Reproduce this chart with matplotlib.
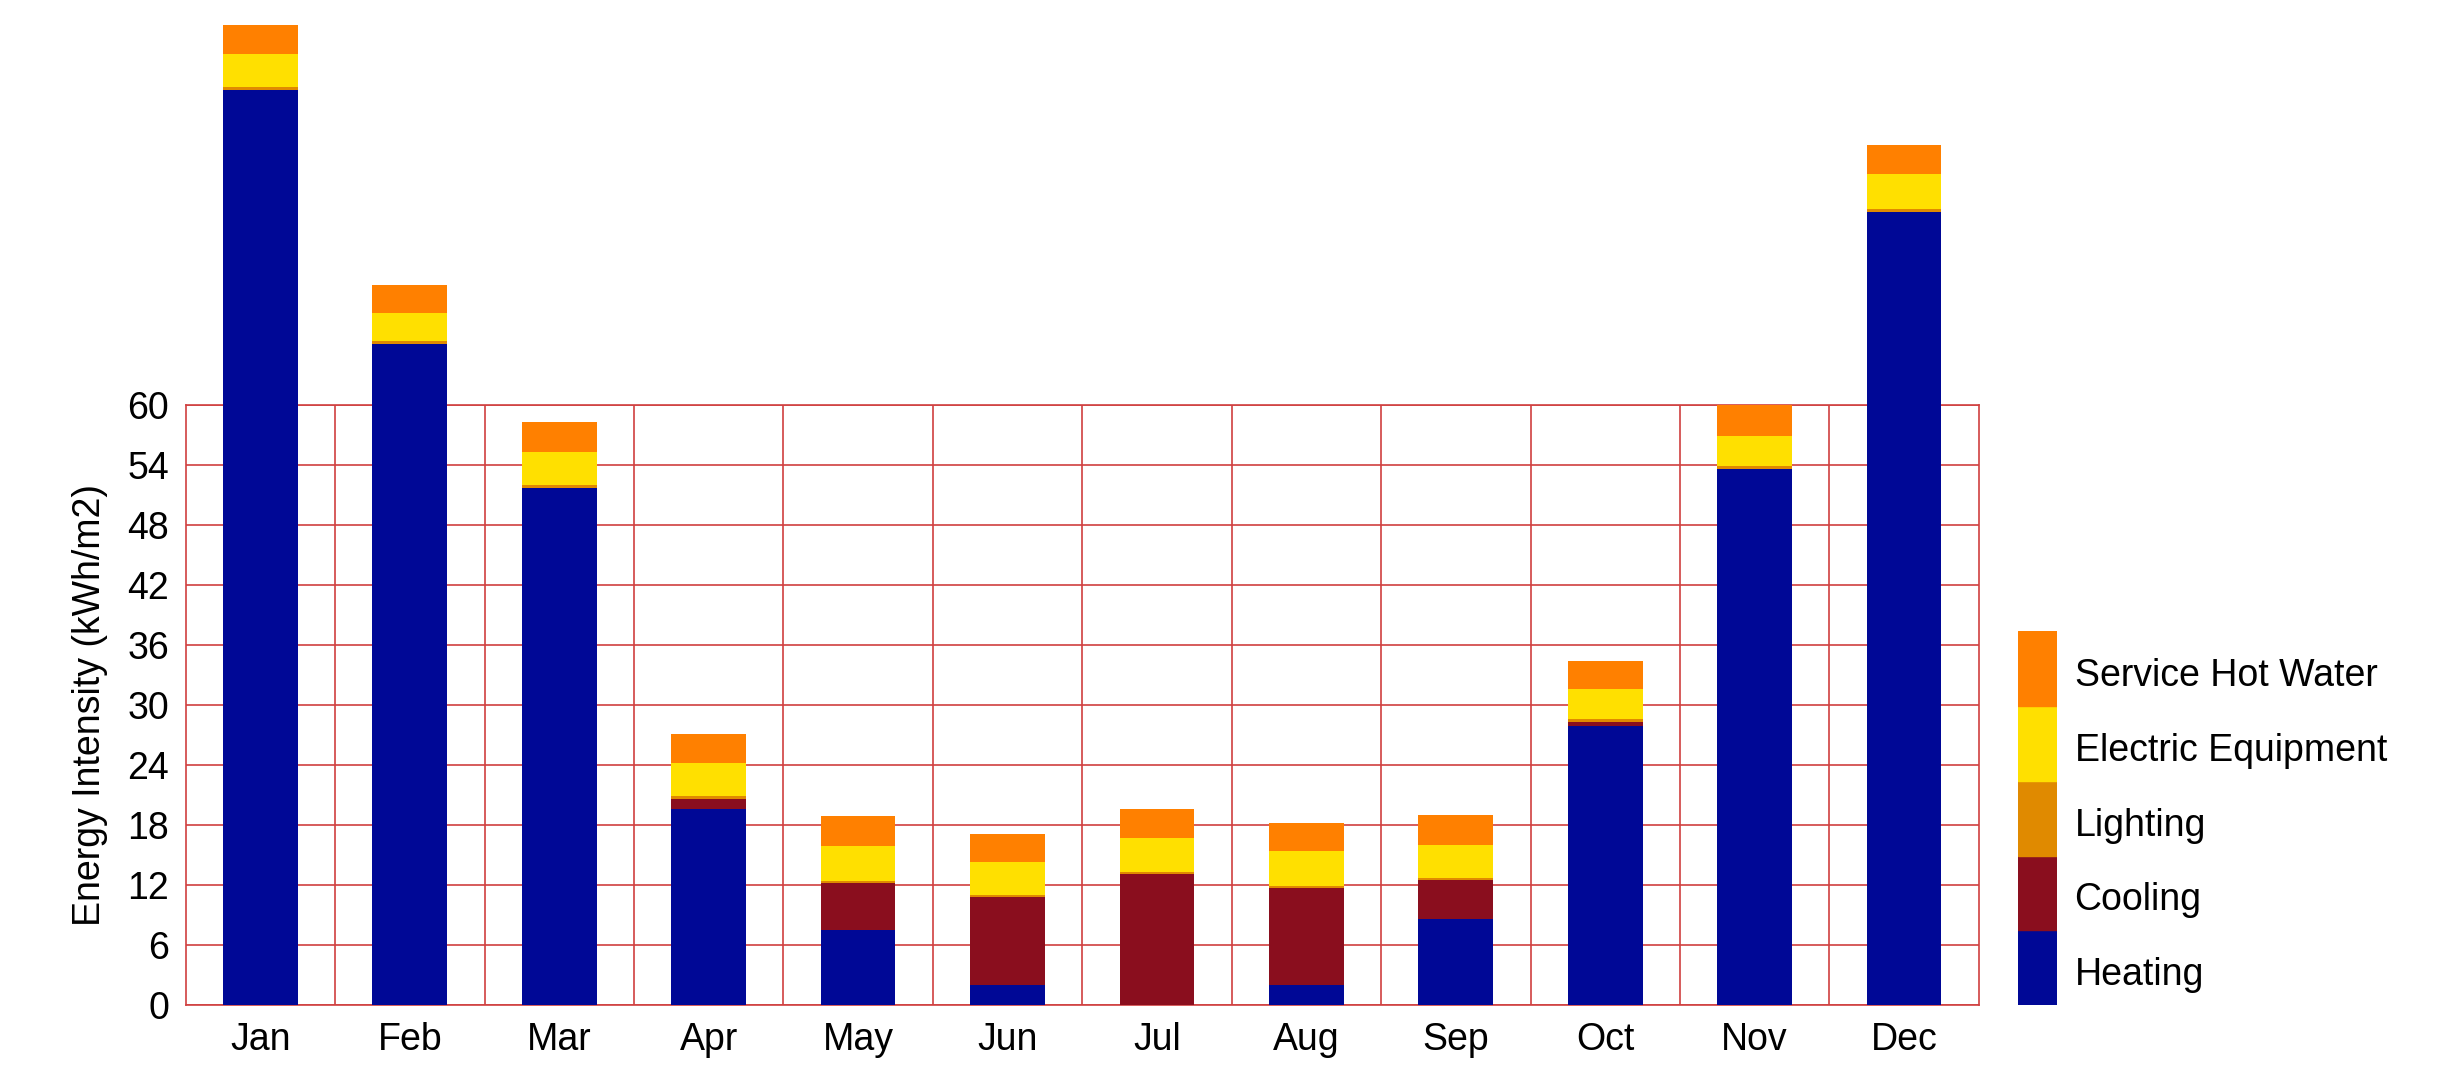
import numpy as np
import matplotlib
matplotlib.use("Agg")
import matplotlib.pyplot as plt
from matplotlib.patches import Rectangle

plt.rcParams["font.family"] = ["Liberation Sans", "DejaVu Sans"]

months = ["Jan", "Feb", "Mar", "Apr", "May", "Jun", "Jul", "Aug", "Sep", "Oct", "Nov", "Dec"]
heating = [91.5, 66.1, 51.7, 19.6, 7.5, 2.0, 0.0, 2.0, 8.6, 27.9, 53.6, 79.3]
cooling = [0.0, 0.0, 0.0, 1.0, 4.7, 8.8, 13.1, 9.7, 3.9, 0.4, 0.0, 0.0]
lighting = [0.3, 0.3, 0.3, 0.3, 0.2, 0.2, 0.2, 0.2, 0.2, 0.3, 0.3, 0.3]
electric = [3.3, 2.8, 3.3, 3.3, 3.5, 3.3, 3.4, 3.5, 3.3, 3.0, 3.0, 3.5]
hot_water = [2.9, 2.8, 3.0, 2.9, 3.0, 2.8, 2.9, 2.8, 3.0, 2.8, 3.1, 2.9]

series = [("Heating", heating, "#000896"), ("Cooling", cooling, "#8a0e1e"),
          ("Lighting", lighting, "#e08a00"), ("Electric Equipment", electric, "#ffe000"),
          ("Service Hot Water", hot_water, "#ff8000")]

fig = plt.figure(figsize=(24.43, 10.83), dpi=100)
ax = fig.add_axes([0.076, 0.072, 0.734, 0.554])
x = np.arange(len(months))
bottom = np.zeros(len(months))
for name, vals, col in series:
    ax.bar(x, vals, 0.5, bottom=bottom, color=col, clip_on=False, zorder=3)
    bottom += np.array(vals)

ax.set_xlim(-0.5, len(months) - 0.5)
ax.set_ylim(0, 60)
ax.set_yticks(range(0, 61, 6))
ax.set_xticks(x)
ax.set_xticklabels(months)
ax.tick_params(length=0, labelsize=27, pad=12)
ax.grid(axis="y", color="#d04040", lw=1.2, zorder=0)
for xv in np.arange(0.5, len(months) - 0.5):
    ax.axvline(xv, color="#d04040", lw=1.2, zorder=0)
for s in ax.spines.values():
    s.set_color("#d04040"); s.set_linewidth(1.2)
ax.set_ylabel("Energy Intensity (kWh/m2)", fontsize=27, labelpad=14)

# legend as stacked swatches
lax = fig.add_axes([0.826, 0.072, 0.016, 0.345])
lax.set_xlim(0, 1); lax.set_ylim(0, len(series))
lax.axis("off")
for i, (name, _, col) in enumerate(series):
    lax.add_patch(Rectangle((0, i), 1, 1, color=col))
    lax.text(1.45, i + 0.4, name, fontsize=27, va="center", ha="left")

fig.savefig("out.png", dpi=100)
